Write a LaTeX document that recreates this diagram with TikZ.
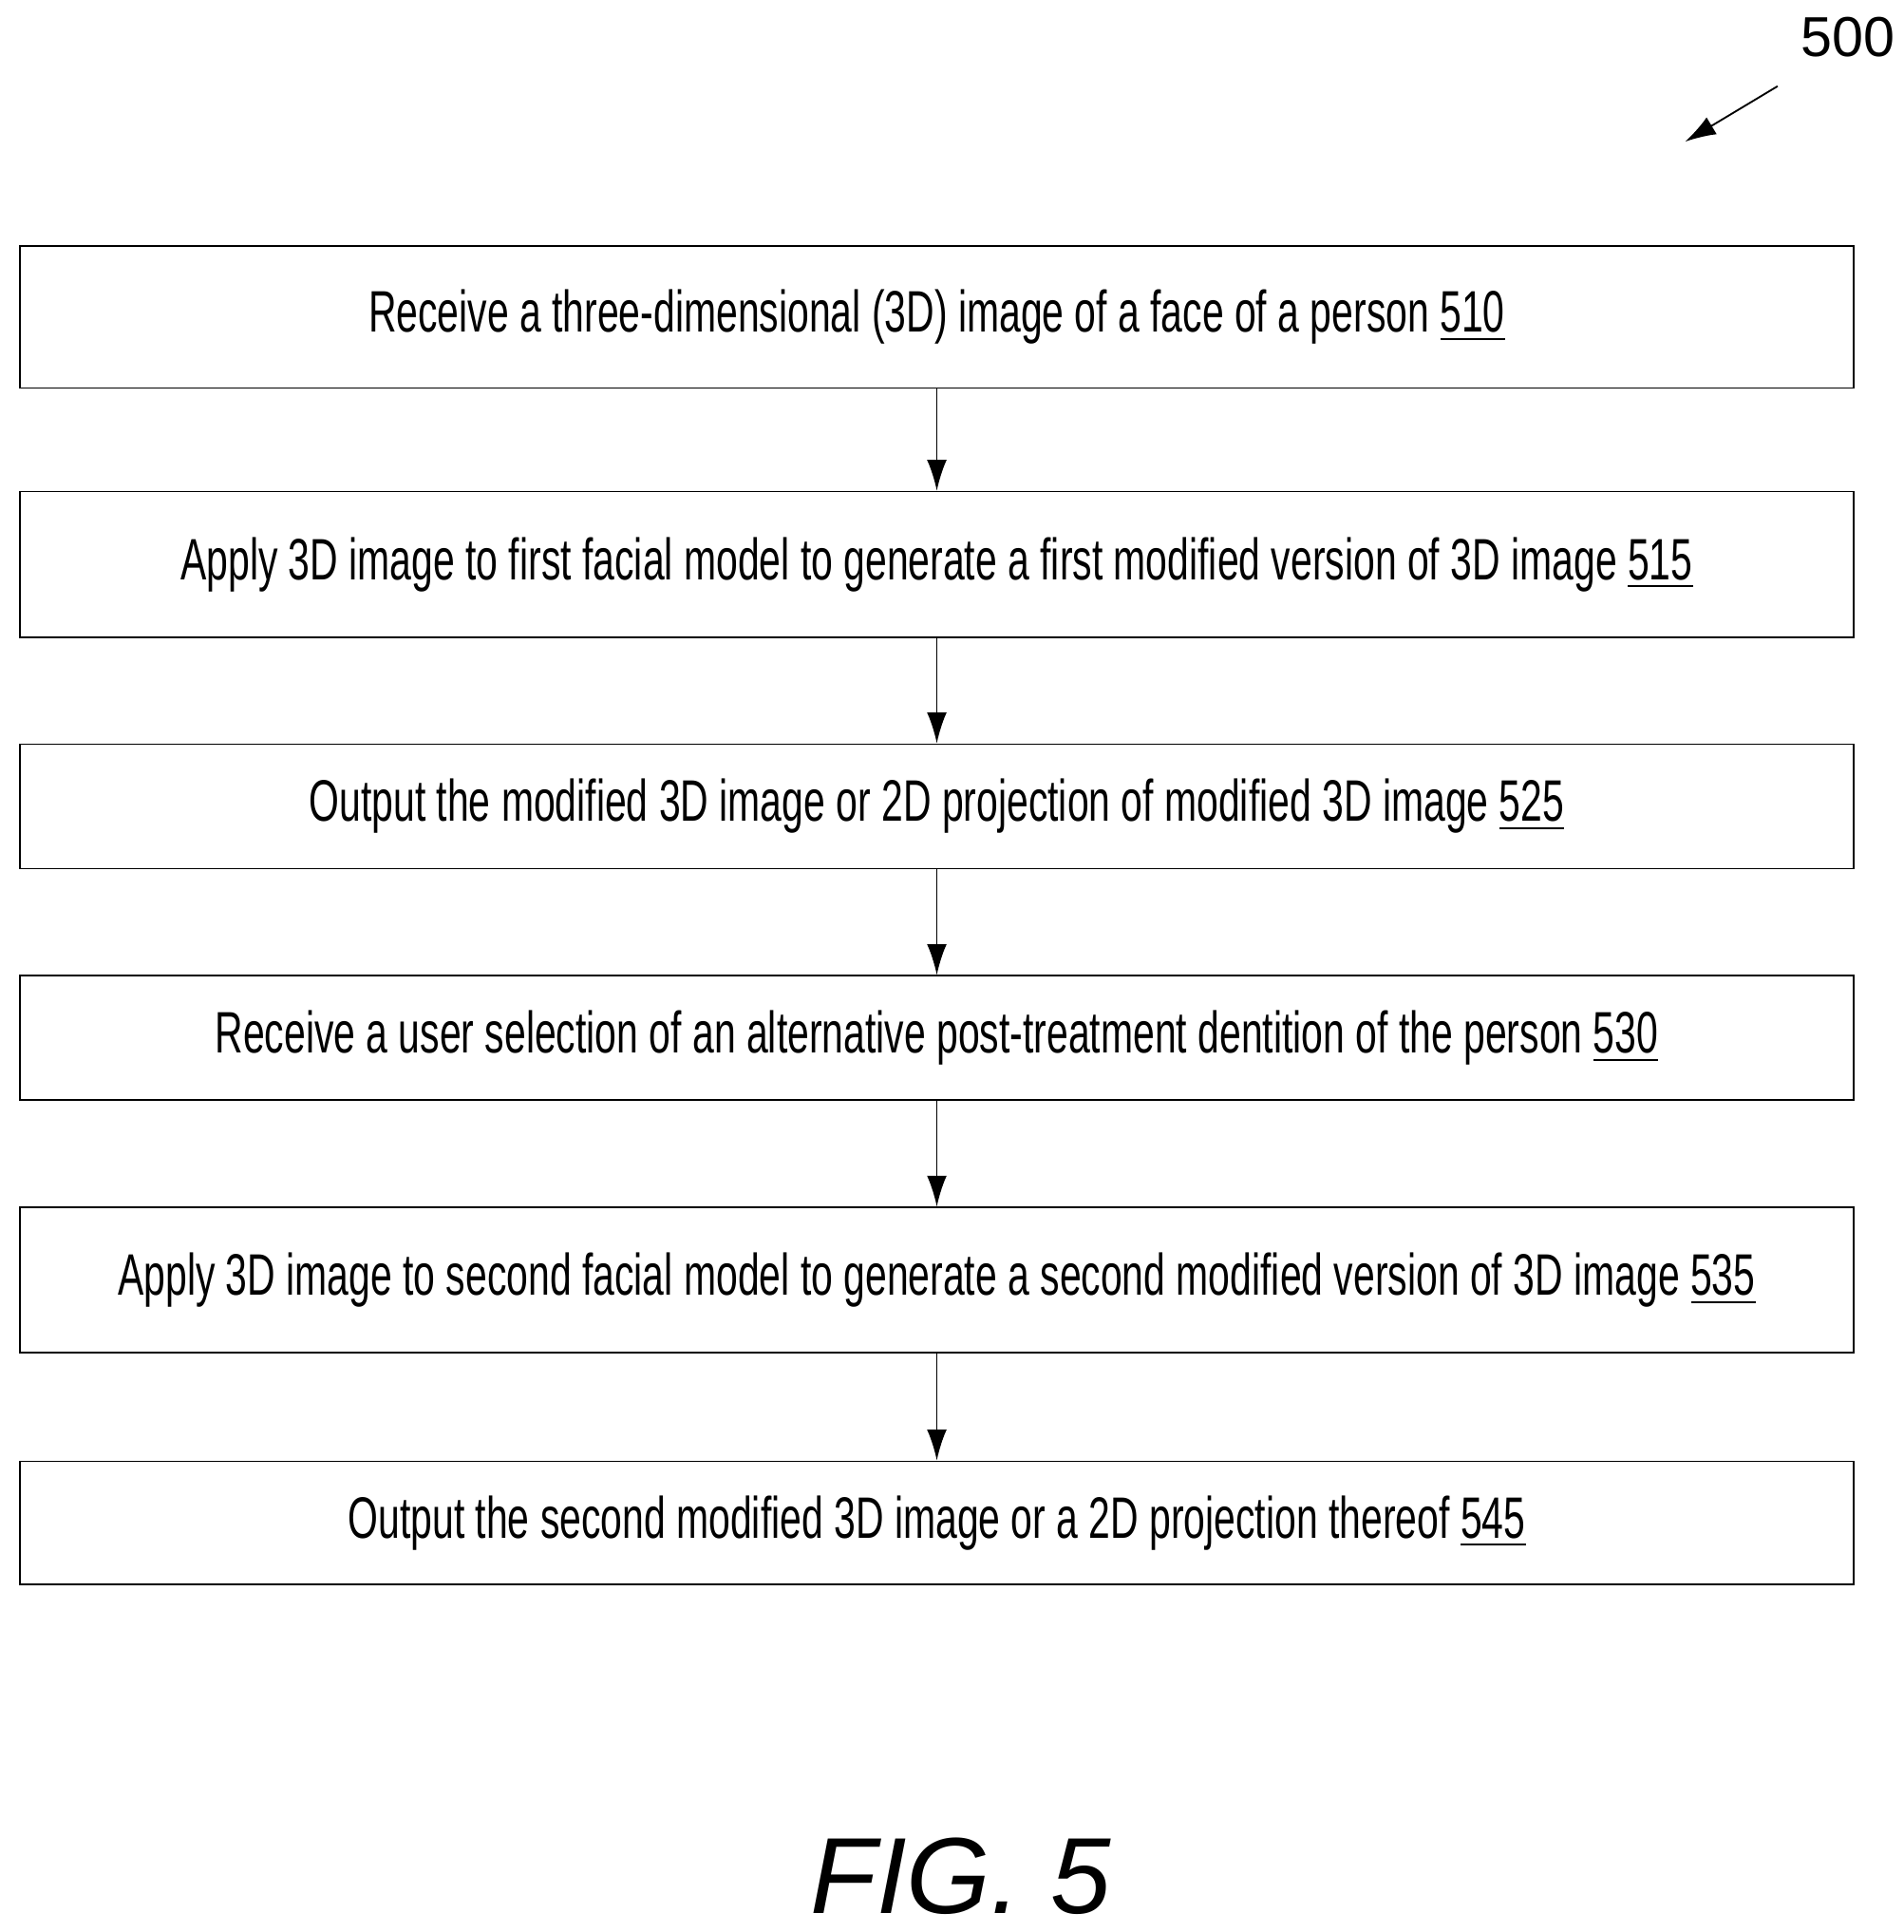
\documentclass[tikz,border=0pt]{standalone}
\usepackage{fontspec}
\setmainfont{Liberation Sans}
\newfontfamily\narrowfont{Liberation Sans}[FakeStretch=0.665]
\usepackage{tikz}
\usetikzlibrary{arrows.meta}

\begin{document}
\begin{tikzpicture}[stepbox/.style={draw,minimum width=14.89cm,inner sep=0pt,font=\narrowfont\fontsize{13.5}{15}\selectfont}, arr/.style={draw,-{Latex[length=2.5mm,width=1.6mm]}}]
    \useasboundingbox (0,0) rectangle (15.45,15.68);

    \node[stepbox,minimum height=1.15cm] (receive) at (7.605,13.105) {Receive a three-dimensional (3D) image of a face of a person \underline{510}};
    \node[stepbox,minimum height=1.18cm] (firstmodel) at (7.605,11.10) {Apply 3D image to first facial model to generate a first modified version of 3D image \underline{515}};
    \node[stepbox,minimum height=1.01cm] (outputfirst) at (7.605,9.135) {Output the modified 3D image or 2D projection of modified 3D image \underline{525}};
    \node[stepbox,minimum height=1.01cm] (selection) at (7.605,7.255) {Receive a user selection of an alternative post-treatment dentition of the person \underline{530}};
    \node[stepbox,minimum height=1.18cm] (secondmodel) at (7.605,5.29) {Apply 3D image to second facial model to generate a second modified version of 3D image \underline{535}};
    \node[stepbox,minimum height=1.00cm] (outputsecond) at (7.605,3.32) {Output the second modified 3D image or a 2D projection thereof \underline{545}};

    \draw[arr] (receive) -- (firstmodel);
    \draw[arr] (firstmodel) -- (outputfirst);
    \draw[arr] (outputfirst) -- (selection);
    \draw[arr] (selection) -- (secondmodel);
    \draw[arr] (secondmodel) -- (outputsecond);

    \node[font=\fontsize{13}{15}\selectfont] (label) at (15.0,15.38) {500};
    \coordinate (tail) at (14.43,14.98);
    \coordinate (head) at (13.68,14.53);
    \draw[arr] (tail) -- (head);

    \node[font=\itshape\fontsize{25}{28}\selectfont] (fig) at (7.8,0.45) {FIG. 5};
\end{tikzpicture}
\end{document}
